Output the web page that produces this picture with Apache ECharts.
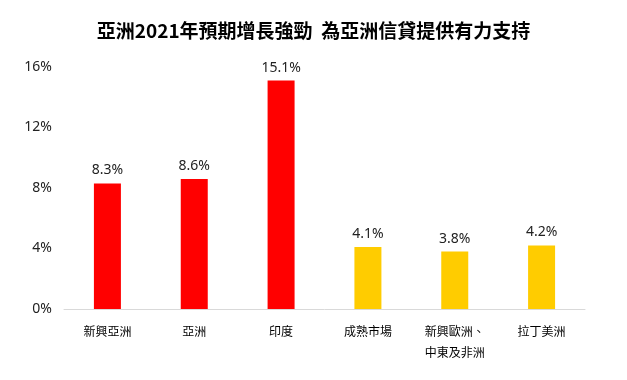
<!DOCTYPE html>
<html>
<head>
<meta charset="utf-8">
<script src="https://cdn.jsdelivr.net/npm/echarts@6/dist/echarts.min.js"></script>
<style>html,body{margin:0;padding:0;background:#fff;}#c{width:627px;height:380px;}</style>
</head>
<body>
<div id="c"></div>
<script>
const titleText = '亞洲2021年預期增長強勁  為亞洲信貸提供有力支持';
const categories = ['新興亞洲', '亞洲', '印度', '成熟市場', '新興歐洲、\n中東及非洲', '拉丁美洲'];
const values = [8.3, 8.6, 15.1, 4.1, 3.8, 4.2];
const barColors = ['#FF0000', '#FF0000', '#FF0000', '#FFCC00', '#FFCC00', '#FFCC00'];
const yTicks = [0, 4, 8, 12, 16];

const font = '"Noto Sans CJK TC", "Noto Sans", sans-serif';
const numFont = '"Noto Sans", "Open Sans", sans-serif';
const chart = echarts.init(document.getElementById('c'));
chart.setOption({
  animation: false,
  title: {
    text: titleText, left: 'center', top: 16,
    textStyle: { fontFamily: font, fontSize: 19, fontWeight: 'bold', color: '#000' }
  },
  grid: { left: 64, right: 42, top: 67, bottom: 71 },
  xAxis: {
    type: 'category', data: categories,
    axisLine: { lineStyle: { color: '#D9D9D9', width: 1 } },
    axisTick: { show: false },
    axisLabel: { fontFamily: font, fontSize: 12, color: '#000', margin: 12, lineHeight: 21, interval: 0 }
  },
  yAxis: {
    type: 'value', min: yTicks[0], max: yTicks[yTicks.length - 1], interval: 4,
    splitLine: { show: false },
    axisLine: { show: false }, axisTick: { show: false },
    axisLabel: { fontFamily: numFont, fontSize: 14, color: '#222', margin: 12, formatter: v => v + '%' }
  },
  series: [{
    type: 'bar', barWidth: 27,
    data: values.map((v, i) => ({ value: v, itemStyle: { color: barColors[i] } })),
    label: { show: true, position: 'top', distance: 6, fontFamily: numFont, fontSize: 14, color: '#222', formatter: p => p.value.toFixed(1) + '%' }
  }]
});
</script>
</body>
</html>
